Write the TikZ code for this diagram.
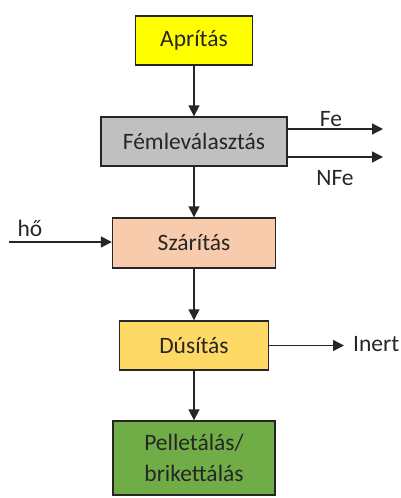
\documentclass[tikz,border=0pt]{standalone}
\usepackage{fontspec}
\setmainfont{Carlito}
\usetikzlibrary{arrows.meta}
\begin{document}
\begin{tikzpicture}[x=1pt,y=-1pt,
  proc/.style={draw=black!85, line width=1.4pt, inner sep=0pt, align=center,
    font=\fontsize{23.5}{31}\selectfont, text=black!85},
  arr/.style={line width=1.4pt, draw=black!85,
    -{Triangle[length=11pt,width=11pt]}},
  lbl/.style={font=\fontsize{23.5}{28}\selectfont, text=black!85, inner sep=0pt}]
\useasboundingbox (0,0) rectangle (401,498);
% process boxes
\node[proc, fill={rgb,255:red,255;green,255;blue,0}, minimum width=117pt, minimum height=49pt] (apr) at (194,40.5) {Aprítás};
\node[proc, fill={rgb,255:red,192;green,192;blue,192}, minimum width=186pt, minimum height=49pt] (fem) at (194,141.5) {Fémleválasztás};
\node[proc, fill={rgb,255:red,248;green,203;blue,173}, minimum width=163pt, minimum height=50pt] (szar) at (194,243) {Szárítás};
\node[proc, fill={rgb,255:red,255;green,217;blue,102}, minimum width=149pt, minimum height=49pt] (dus) at (194,345.5) {Dúsítás};
\node[proc, fill={rgb,255:red,112;green,173;blue,71}, minimum width=162pt, minimum height=74pt] (pel) at (194,458) {Pelletálás/\\brikettálás};
% main flow
\draw[arr] (apr) -- (fem);
\draw[arr] (fem) -- (szar);
\draw[arr] (szar) -- (dus);
\draw[arr] (dus) -- (pel);
% side streams
\coordinate (feend) at (383,129);
\coordinate (nfeend) at (383,157);
\coordinate (hostart) at (9,242);
\coordinate (inend) at (344,345.5);
\draw[arr] (fem.east |- feend) -- (feend);
\draw[arr] (fem.east |- nfeend) -- (nfeend);
\draw[arr] (hostart) -- (szar.west |- hostart);
\draw[arr] (dus.east |- inend) -- (inend);
% labels
\node[lbl] (fe) at (331,119) {Fe};
\node[lbl] (nfe) at (335,178) {NFe};
\node[lbl] (ho) at (30,228) {hő};
\node[lbl, anchor=west] (inert) at (353,344) {Inert};
\end{tikzpicture}
\end{document}
